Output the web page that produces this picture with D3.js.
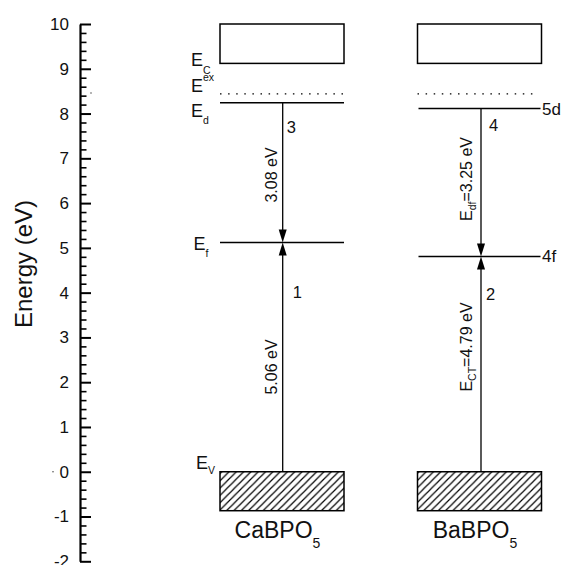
<!DOCTYPE html>
<html><head><meta charset="utf-8">
<script src="https://cdn.jsdelivr.net/npm/d3@7"></script>
<style>body{margin:0;background:#fff}svg{display:block}text{font-family:"Liberation Sans",Arial,Helvetica,sans-serif;fill:#111}</style>
</head><body><svg id="c" width="565" height="565"></svg>
<script>
// ---- data ----
const materials = ["CaBPO5", "BaBPO5"];
const cbBottom = [9.12, 9.12];
const cbTop = [10, 10];
const excitonLevel = [8.44, 8.44];
const dLevel = [8.24, 8.11];
const fLevel = [5.12, 4.81];
const vbTop = [0, 0];
const vbBottom = [-0.87, -0.87];
const emissionNum = ["3", "4"];
const absorptionNum = ["1", "2"];
const emissionLabel = [["", "3.08 eV"], ["df", "=3.25 eV"]];
const ctLabel = [["", "5.06 eV"], ["CT", "=4.79 eV"]];
const majorTicks = [-2, -1, 0, 1, 2, 3, 4, 5, 6, 7, 8, 9, 10];
const minorTicks = d3.range(-2, 10.001, 0.2).map(v => +v.toFixed(1));

// ---- drawing ----
const svg = d3.select("#c");
const y = d3.scaleLinear().domain([-2, 10]).range([561.3, 24]);
const x = d3.scalePoint().domain(materials).range([282, 479.5]);
const halfW = 62;

const defs = svg.append("defs");
const pat = defs.append("pattern").attr("id", "hatch").attr("patternUnits", "userSpaceOnUse")
  .attr("width", 7.3).attr("height", 7.3);
pat.append("path").attr("d", "M-1,1 L1,-1 M0,7.3 L7.3,0 M6.3,8.3 L8.3,6.3")
  .attr("stroke", "#000").attr("stroke-width", 1.2);

// axis
const ax = svg.append("g").attr("transform", "translate(80,0)");
const major = d3.axisRight(y).tickValues(majorTicks).tickSize(11).tickSizeOuter(0).tickFormat(d => String(d));
ax.call(major);
ax.select(".domain").attr("stroke", "#000").attr("stroke-width", 2.2);
ax.selectAll(".tick line").attr("stroke", "#000").attr("stroke-width", 2);
ax.selectAll(".tick text").attr("x", -11).attr("text-anchor", "end")
  .attr("font-size", 17).attr("font-family", '"Liberation Sans",Arial,sans-serif').attr("fill", "#111");
const minor = svg.append("g").attr("transform", "translate(80,0)")
  .call(d3.axisRight(y).tickValues(minorTicks.filter(v => !majorTicks.includes(v))).tickSize(6.5).tickFormat(""));
minor.select(".domain").remove();
minor.selectAll(".tick line").attr("stroke", "#000").attr("stroke-width", 1.6);
svg.append("circle").attr("cx", 91).attr("cy", 93).attr("r", 0.7).attr("fill", "#333");
svg.append("circle").attr("cx", 53).attr("cy", y(0)).attr("r", 0.7).attr("fill", "#333");

svg.append("text").attr("transform", `translate(31.5,264) rotate(-90)`)
  .attr("text-anchor", "middle").attr("font-size", 24).text("Energy (eV)");

materials.forEach((m, i) => {
  const cx = x(m);
  const ax0 = cx + (i === 0 ? 0.7 : 1.5);
  // conduction band
  svg.append("rect").attr("x", cx - halfW).attr("y", y(cbTop[i]))
    .attr("width", 2 * halfW).attr("height", y(cbBottom[i]) - y(cbTop[i]))
    .attr("fill", "none").attr("stroke", "#000").attr("stroke-width", 1.5);
  // valence band
  svg.append("rect").attr("x", cx - halfW).attr("y", y(vbTop[i]))
    .attr("width", 2 * halfW).attr("height", y(vbBottom[i]) - y(vbTop[i]))
    .attr("fill", "url(#hatch)").attr("stroke", "#000").attr("stroke-width", 1.5);
  // exciton dotted
  svg.append("line").attr("x1", cx - halfW).attr("x2", cx + (i === 0 ? halfW : halfW - 7))
    .attr("y1", y(excitonLevel[i])).attr("y2", y(excitonLevel[i]))
    .attr("stroke", "#000").attr("stroke-width", 1.4).attr("stroke-dasharray", "1.5,6.6");
  // d and f levels
  const rightEnd = i === 0 ? cx + halfW : cx + halfW - 1;
  [dLevel[i], fLevel[i]].forEach(v => {
    svg.append("line").attr("x1", cx - halfW + (i === 0 ? 0 : 1)).attr("x2", rightEnd)
      .attr("y1", y(v)).attr("y2", y(v)).attr("stroke", "#000").attr("stroke-width", 1.5);
  });
  // arrows
  svg.append("line").attr("x1", ax0).attr("x2", ax0).attr("y1", y(dLevel[i])).attr("y2", y(fLevel[i]) - 10)
    .attr("stroke", "#000").attr("stroke-width", 1.3);
  svg.append("line").attr("x1", ax0).attr("x2", ax0).attr("y1", y(vbTop[i])).attr("y2", y(fLevel[i]) + 10)
    .attr("stroke", "#000").attr("stroke-width", 1.3);
  const yf = y(fLevel[i]);
  svg.append("path").attr("d", `M${ax0},${yf} L${ax0 - 4},${yf - 13} L${ax0 + 4},${yf - 13} Z`).attr("fill", "#000");
  svg.append("path").attr("d", `M${ax0},${yf} L${ax0 - 4},${yf + 13} L${ax0 + 4},${yf + 13} Z`).attr("fill", "#000");

  // numbers
  svg.append("text").attr("x", ax0 + (i === 0 ? 4 : 8)).attr("y", y(dLevel[i]) + (i === 0 ? 30 : 22))
    .attr("font-size", 16.5).text(emissionNum[i]);
  svg.append("text").attr("x", ax0 + (i === 0 ? 10 : 5)).attr("y", yf + (i === 0 ? 55 : 44))
    .attr("font-size", 16.5).text(absorptionNum[i]);

  // rotated labels
  const rotLabel = (lab, cy) => {
    const t = svg.append("text").attr("transform", `translate(${ax0 - (i === 0 ? 6 : 9)},${cy}) rotate(-90)`)
      .attr("text-anchor", "middle").attr("font-size", 16);
    if (lab[0]) {
      t.append("tspan").text("E");
      t.append("tspan").attr("font-size", 10.5).attr("dy", 4).text(lab[0]);
      t.append("tspan").attr("dy", -4).text(lab[1]);
    } else t.text(lab[1]);
  };
  rotLabel(emissionLabel[i], i === 0 ? 175 : 179);
  rotLabel(ctLabel[i], i === 0 ? 367 : 347);

  // material name
  const mt = svg.append("text").attr("x", cx - 4.5).attr("y", 538).attr("text-anchor", "middle").attr("font-size", 23);
  mt.append("tspan").text(m.slice(0, -1));
  mt.append("tspan").attr("font-size", 14).attr("dy", 10).text(m.slice(-1));
});

// level labels for CaBPO5 (left)
const ca = x(materials[0]);
function lvl(xx, yy, sub, dy) {
  const t = svg.append("text").attr("x", xx).attr("y", yy).attr("font-size", 18);
  t.append("tspan").text("E");
  t.append("tspan").attr("font-size", 10.5).attr("dy", dy).text(sub);
}
lvl(ca - 91, y(cbBottom[0]) + 3, "C", 7.5);
lvl(ca - 91, y(excitonLevel[0]) - 2, "ex", -10.5);
lvl(ca - 91, y(dLevel[0]) + 14.5, "d", 6.5);
lvl(ca - 88.5, y(fLevel[0]) + 7, "f", 7);
lvl(ca - 86, y(vbTop[0]) - 3, "V", 5.5);

// level labels for BaBPO5 (right)
const ba = x(materials[1]);
svg.append("text").attr("x", ba + halfW + 0.5).attr("y", y(dLevel[1]) + 6).attr("font-size", 17).text("5d");
svg.append("text").attr("x", ba + halfW + 0.5).attr("y", y(fLevel[1]) + 6).attr("font-size", 17).text("4f");
</script></body></html>
